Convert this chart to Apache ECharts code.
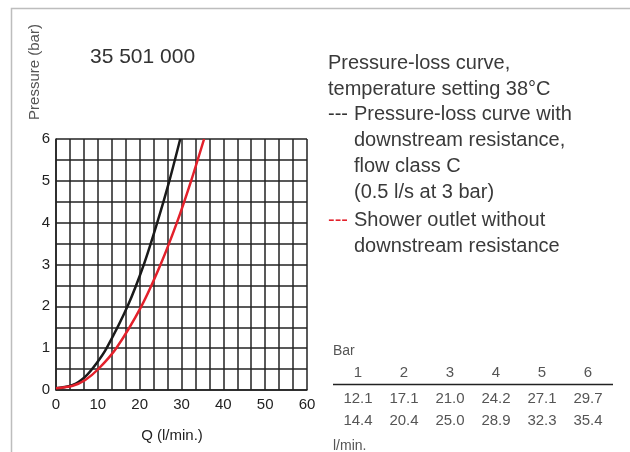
<!DOCTYPE html>
<html>
<head>
<meta charset="utf-8">
<script src="https://cdn.jsdelivr.net/npm/echarts@6/dist/echarts.min.js"></script>
<style>html,body{margin:0;padding:0;background:#fff}#c{width:630px;height:452px}</style>
</head>
<body>
<div id="c"></div>
<script>
// Table values (bar -> l/min.)
const barLevels = [1, 2, 3, 4, 5, 6];
const flowWithResistance = [12.1, 17.1, 21.0, 24.2, 27.1, 29.7];
const flowWithoutResistance = [14.4, 20.4, 25.0, 28.9, 32.3, 35.4];
// Low-end of curves [Q, bar]
const blackLow = [[0, 0.04], [4, 0.12], [7, 0.32], [9.7, 0.64]];
const redLow = [[0, 0.04], [4, 0.1], [7, 0.24], [10, 0.49]];
const xTickLabels = [0, 10, 20, 30, 40, 50, 60];
const yTickLabels = [0, 1, 2, 3, 4, 5, 6];
const xGridDivisions = 18;

const blackData = blackLow.concat(barLevels.map((b, i) => [flowWithResistance[i], b]));
const redData = redLow.concat(barLevels.map((b, i) => [flowWithoutResistance[i], b]));

const FONT = 'Liberation Sans, Arial, sans-serif';
const TXT = '#3a3a3a';

const chart = echarts.init(document.getElementById('c'));
const legendLines = [
  {t: 'Pressure-loss curve,', x: 328, y: 63},
  {t: 'temperature setting 38°C', x: 328, y: 89},
  {t: '---', x: 328, y: 114, c: '#333'},
  {t: 'Pressure-loss curve with', x: 354, y: 114},
  {t: 'downstream resistance,', x: 354, y: 140},
  {t: 'flow class C', x: 354, y: 166},
  {t: '(0.5 l/s at 3 bar)', x: 354, y: 192},
  {t: '---', x: 328, y: 220, c: '#e3212b'},
  {t: 'Shower outlet without', x: 354, y: 220},
  {t: 'downstream resistance', x: 354, y: 246}
];
const graphics = [
  {type: 'polyline', shape: {points: [[11.5, 452], [11.5, 8.5], [630, 8.5]]}, style: {stroke: '#bdbdbd', lineWidth: 1.5, fill: null}},
  {type: 'text', x: 35, y: 72, rotation: Math.PI / 2, style: {text: 'Pressure (bar)', font: '15px ' + FONT, fill: '#555', align: 'center', verticalAlign: 'middle'}},
  {type: 'text', x: 90, y: 57, style: {text: '35 501 000', font: '21px ' + FONT, fill: '#333', verticalAlign: 'middle'}},
  {type: 'text', x: 172, y: 436, style: {text: 'Q (l/min.)', font: '15px ' + FONT, fill: '#222', align: 'center', verticalAlign: 'middle'}}
];
legendLines.forEach(l => graphics.push({type: 'text', x: l.x, y: l.y, style: {text: l.t, font: '20px ' + FONT, fill: l.c || TXT, verticalAlign: 'middle'}}));
// table
const colX = i => 358 + i * 46;
graphics.push({type: 'text', x: 333, y: 351, style: {text: 'Bar', font: '14px ' + FONT, fill: '#555', verticalAlign: 'middle'}});
graphics.push({type: 'text', x: 333, y: 446, style: {text: 'l/min.', font: '14px ' + FONT, fill: '#555', verticalAlign: 'middle'}});
graphics.push({type: 'line', shape: {x1: 333, y1: 384.5, x2: 613, y2: 384.5}, style: {stroke: '#222', lineWidth: 1.5}});
barLevels.forEach((b, i) => {
  graphics.push({type: 'text', x: colX(i), y: 373, style: {text: String(b), font: '15px ' + FONT, fill: '#555', align: 'center', verticalAlign: 'middle'}});
  graphics.push({type: 'text', x: colX(i), y: 399, style: {text: flowWithResistance[i].toFixed(1), font: '15px ' + FONT, fill: '#555', align: 'center', verticalAlign: 'middle'}});
  graphics.push({type: 'text', x: colX(i), y: 421, style: {text: flowWithoutResistance[i].toFixed(1), font: '15px ' + FONT, fill: '#555', align: 'center', verticalAlign: 'middle'}});
});

const gridLine = {show: true, lineStyle: {color: '#222', width: 1.5}};
chart.setOption({
  animation: false,
  grid: {left: 56, right: 323, top: 139, bottom: 62},
  xAxis: [
    // ruler axis for the vertical grid lines (18 divisions over 0..60)
    {type: 'value', min: 0, max: xGridDivisions, interval: 1, position: 'bottom',
     axisLine: {show: true, lineStyle: {color: '#222', width: 1.5}}, axisTick: {show: false},
     axisLabel: {show: false}, splitLine: gridLine},
    {type: 'value', min: 0, max: 60, interval: 10, position: 'bottom',
     axisLine: {show: false}, axisTick: {show: false}, splitLine: {show: false},
     axisLabel: {show: true, margin: 7, color: '#222', fontSize: 15, fontFamily: FONT,
       formatter: v => xTickLabels.includes(v) ? String(v) : ''}}
  ],
  yAxis: {type: 'value', min: 0, max: 6, interval: 0.5,
    axisLine: {show: true, lineStyle: {color: '#222', width: 1.5}}, axisTick: {show: false},
    splitLine: gridLine,
    axisLabel: {margin: 6, color: '#222', fontSize: 15, fontFamily: FONT,
      formatter: v => yTickLabels.includes(v) ? String(v) : ''}},
  series: [
    {type: 'line', xAxisIndex: 1, data: blackData, smooth: 0.3, symbol: 'none', lineStyle: {color: '#1a1a1a', width: 2.5}, z: 3},
    {type: 'line', xAxisIndex: 1, data: redData, smooth: 0.3, symbol: 'none', lineStyle: {color: '#e3212b', width: 2.5}, z: 4}
  ],
  graphic: graphics
});
</script>
</body>
</html>
